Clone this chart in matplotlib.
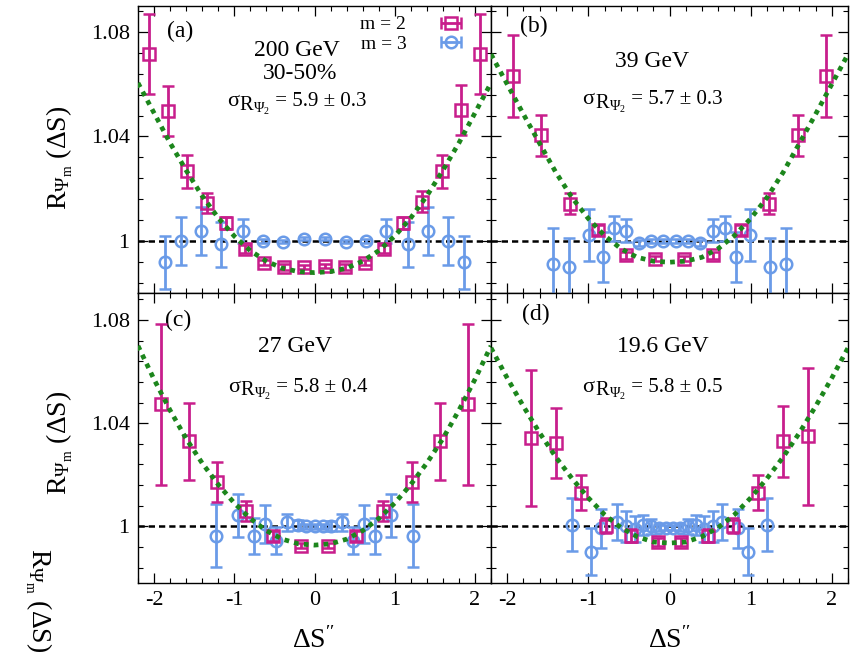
import numpy as np
import matplotlib
matplotlib.use('Agg')
import matplotlib.pyplot as plt
from matplotlib.ticker import MultipleLocator
from matplotlib.offsetbox import TextArea, HPacker, AnnotationBbox

plt.rcParams['font.family'] = ['Liberation Serif', 'DejaVu Serif']
plt.rcParams['mathtext.fontset'] = 'custom'
plt.rcParams['mathtext.rm'] = 'Liberation Serif'
plt.rcParams['mathtext.it'] = 'Liberation Serif:italic'
plt.rcParams['axes.unicode_minus'] = False

# colours
MAG = '#c81e8c'
BLUE = '#6a9be8'
GREEN = '#1c861c'

# ---- panel (a) 200 GeV ----
xa2 = [-2.06, -1.82, -1.59, -1.34, -1.10, -0.87, -0.625, -0.38, -0.13,
       0.13, 0.38, 0.625, 0.87, 1.10, 1.34, 1.59, 1.82, 2.06]
ya2 = [1.0716, 1.0499, 1.0266, 1.0145, 1.0070, 0.9970, 0.9916, 0.9900, 0.9900,
       0.9902, 0.9900, 0.9916, 0.9970, 1.0070, 1.0150, 1.0266, 1.0500, 1.0716]
ea2 = [0.0152, 0.0096, 0.0064, 0.0040, 0.0023, 0.0015, 0.0010, 0.0010, 0.0008,
       0.0008, 0.0010, 0.0010, 0.0015, 0.0023, 0.0040, 0.0064, 0.0096, 0.0152]
xa3 = [-1.86, -1.67, -1.42, -1.16, -0.895, -0.645, -0.39, -0.135,
       0.135, 0.39, 0.645, 0.895, 1.16, 1.42, 1.67, 1.86]
ya3 = [0.9918, 1.0000, 1.0038, 0.9986, 1.0038, 1.0000, 0.9996, 1.0008,
       1.0008, 0.9996, 1.0000, 1.0038, 0.9986, 1.0038, 1.0000, 0.9918]
ea3 = [0.0101, 0.0092, 0.0093, 0.0085, 0.0047, 0.0008, 0.0006, 0.0005,
       0.0005, 0.0006, 0.0008, 0.0047, 0.0085, 0.0093, 0.0092, 0.0101]

# ---- panel (b) 39 GeV ----
xb2 = [-1.93, -1.58, -1.23, -0.88, -0.53, -0.18, 0.18, 0.53, 0.88, 1.23, 1.58, 1.93]
yb2 = [1.0632, 1.0405, 1.0143, 1.0041, 0.9944, 0.9931, 0.9931, 0.9944, 1.0041, 1.0143, 1.0405, 1.0632]
eb2 = [0.0158, 0.0078, 0.0042, 0.0020, 0.0015, 0.0010, 0.0010, 0.0015, 0.0020, 0.0042, 0.0078, 0.0158]
xb3 = [-1.43, -1.24, -0.99, -0.82, -0.68, -0.53, -0.37, -0.23, -0.077,
       0.077, 0.23, 0.37, 0.53, 0.68, 0.82, 0.99, 1.24, 1.43]
yb3 = [0.9912, 0.9899, 1.0022, 0.9938, 1.0048, 1.0038, 0.9992, 1.0000, 1.0000,
       1.0000, 1.0000, 0.9992, 1.0038, 1.0048, 0.9938, 1.0022, 0.9899, 0.9912]
eb3 = [0.0136, 0.0110, 0.0100, 0.0094, 0.0047, 0.0044, 0.0010, 0.0008, 0.0007,
       0.0007, 0.0008, 0.0010, 0.0044, 0.0047, 0.0094, 0.0100, 0.0110, 0.0136]

# ---- panel (c) 27 GeV ----
xc2 = [-1.91, -1.56, -1.22, -0.86, -0.52, -0.17, 0.17, 0.52, 0.86, 1.22, 1.56, 1.91]
yc2 = [1.0473, 1.0329, 1.0173, 1.0061, 0.9963, 0.9924, 0.9924, 0.9963, 1.0061, 1.0173, 1.0329, 1.0473]
ec2 = [0.0312, 0.0148, 0.0077, 0.0039, 0.0020, 0.0010, 0.0010, 0.0020, 0.0039, 0.0077, 0.0148, 0.0312]
xc3 = [-1.23, -0.95, -0.76, -0.62, -0.48, -0.34, -0.21, -0.10, 0.0,
       0.10, 0.21, 0.34, 0.48, 0.62, 0.76, 0.95, 1.23]
yc3 = [0.9963, 1.0042, 0.9963, 1.0009, 0.9944, 1.0016, 1.0005, 1.0000, 1.0000,
       1.0000, 1.0000, 1.0016, 0.9944, 1.0009, 0.9963, 1.0042, 0.9963]
ec3 = [0.0122, 0.0085, 0.0070, 0.0072, 0.0052, 0.0033, 0.0020, 0.0010, 0.0010,
       0.0010, 0.0020, 0.0033, 0.0052, 0.0072, 0.0070, 0.0085, 0.0122]

# ---- panel (d) 19.6 GeV ----
xd2 = [-1.71, -1.40, -1.09, -0.78, -0.47, -0.14, 0.14, 0.47, 0.78, 1.09, 1.40, 1.71]
yd2 = [1.0342, 1.0323, 1.0131, 1.0003, 0.9963, 0.9940, 0.9940, 0.9963, 1.0003, 1.0131, 1.0329, 1.0349]
ed2 = [0.0265, 0.0137, 0.0069, 0.0030, 0.0025, 0.0015, 0.0015, 0.0025, 0.0030, 0.0069, 0.0137, 0.0265]
xd3 = [-1.20, -0.97, -0.85, -0.65, -0.53, -0.43, -0.33, -0.23, -0.13, -0.04,
       0.04, 0.13, 0.23, 0.33, 0.43, 0.53, 0.65, 0.85, 0.97, 1.20]
yd3 = [1.0006, 0.9902, 0.9992, 1.0015, 1.0000, 0.9990, 1.0005, 1.0000, 0.9995, 0.9995,
       0.9995, 0.9995, 1.0000, 1.0005, 0.9990, 1.0000, 1.0015, 0.9992, 0.9902, 1.0006]
ed3 = [0.0102, 0.0090, 0.0077, 0.0070, 0.0060, 0.0050, 0.0040, 0.0030, 0.0015, 0.0010,
       0.0010, 0.0015, 0.0030, 0.0040, 0.0050, 0.0060, 0.0070, 0.0077, 0.0090, 0.0102]

# green fit curves, read at |dS| = 0, 0.2, ... 2.2 (symmetric)
fit_x = [0.0, 0.2, 0.4, 0.6, 0.8, 1.0, 1.2, 1.4, 1.6, 1.8, 2.0, 2.2]
fit_a = [0.9878, 0.9882, 0.9895, 0.9922, 0.9962, 1.0018, 1.0088, 1.0172, 1.0270, 1.0375, 1.0490, 1.0605]
fit_b = [0.9918, 0.9922, 0.9937, 0.9970, 1.0020, 1.0085, 1.0165, 1.0262, 1.0373, 1.0485, 1.0600, 1.0715]
fit_c = [0.9927, 0.9932, 0.9950, 0.9983, 1.0030, 1.0090, 1.0162, 1.0245, 1.0340, 1.0450, 1.0570, 1.0700]
fit_d = [0.9935, 0.9939, 0.9960, 0.9995, 1.0045, 1.0110, 1.0185, 1.0268, 1.0362, 1.0465, 1.0575, 1.0692]

letters = ['(a)', '(b)', '(c)', '(d)']
energies = ['200 GeV', '39 GeV', '27 GeV', '19.6 GeV']
sigmas = ['= 5.9 \u00b1 0.3', '= 5.7 \u00b1 0.3', '= 5.8 \u00b1 0.4', '= 5.8 \u00b1 0.5']
xticks = [-2, -1, 0, 1, 2]
yticks = [1.0, 1.04, 1.08]
ytick_labels = ['1', '1.04', '1.08']

W, H = 856, 663
fig = plt.figure(figsize=(W / 100, H / 100), dpi=100)

# axes boxes in pixels (left, top, right, bottom)
boxes = [(138, 6, 491, 293), (491, 6, 848, 293), (138, 293, 491, 583), (491, 293, 848, 583)]
panels = [(xa2, ya2, ea2, xa3, ya3, ea3, fit_a),
          (xb2, yb2, eb2, xb3, yb3, eb3, fit_b),
          (xc2, yc2, ec2, xc3, yc3, ec3, fit_c),
          (xd2, yd2, ed2, xd3, yd3, ed3, fit_d)]
# text positions in axes fractions
pos_letter = [(0.12, 0.91), (0.12, 0.93), (0.115, 0.905), (0.125, 0.925)]
pos_energy = [(0.45, 0.845), (0.45, 0.805), (0.445, 0.815), (0.48, 0.815)]
pos_sigma = [(0.449, 0.667), (0.452, 0.672), (0.453, 0.674), (0.452, 0.674)]

eb_kw = dict(mfc='none', ms=8.3, mew=1.8, elinewidth=2.0, capsize=4.3, capthick=2.0)

for i, (x2, y2, e2, x3, y3, e3, fit) in enumerate(panels):
    l, t, r, b = boxes[i]
    ax = fig.add_axes([l / W, 1 - b / H, (r - l) / W, (b - t) / H])

    ax.axhline(1.0, color='black', lw=1.8, ls=(0, (2.5, 1.6)), zorder=1)

    ax.errorbar(x3, y3, yerr=e3, fmt='o', color=BLUE, mec=BLUE, zorder=3, **eb_kw)
    ax.errorbar(x2, y2, yerr=e2, fmt='s', color=MAG, mec=MAG, zorder=4, **eb_kw)

    fx = [-v for v in fit_x[::-1]] + fit_x[1:]
    fy = fit[::-1] + fit[1:]
    ax.plot(fx, fy, color=GREEN, lw=3.4, ls=(0, (1, 1.1)), zorder=5)

    ax.set_xlim(-2.2, 2.2)
    if i < 2:
        ax.set_ylim(0.98, 1.09)
    else:
        ax.set_ylim(0.978, 1.0905)
    ax.set_xticks(xticks)
    ax.set_yticks(yticks)
    ax.xaxis.set_minor_locator(MultipleLocator(0.2))
    ax.yaxis.set_minor_locator(MultipleLocator(0.008))
    ax.tick_params(which='both', direction='in', top=True, right=True, labelsize=16)
    ax.tick_params(which='major', length=7, width=0.9, pad=6)
    ax.tick_params(which='minor', length=3.5, width=0.8)
    for sp in ax.spines.values():
        sp.set_linewidth(1.0)

    if i in (0, 2):
        ax.set_yticklabels(ytick_labels)
    else:
        ax.tick_params(labelleft=False)
    if i in (2, 3):
        ax.set_xticklabels([str(v) for v in xticks])
    else:
        ax.tick_params(labelbottom=False)

    ax.text(*pos_letter[i], letters[i], transform=ax.transAxes, fontsize=17,
            ha='center', va='center')
    ax.text(*pos_energy[i], energies[i], transform=ax.transAxes, fontsize=17,
            ha='center', va='center')
    if i == 0:
        ax.text(0.46, 0.765, '30-50%', transform=ax.transAxes, fontsize=17,
                ha='center', va='center')

    # sigma label: larger subscripts than plain mathtext gives
    parts = [TextArea('\u03c3', textprops=dict(fontsize=16)),
             TextArea(r'$_{\mathrm{R}_{\Psi_2}}$', textprops=dict(fontsize=21)),
             TextArea(' ' + sigmas[i], textprops=dict(fontsize=15))]
    box = HPacker(children=parts, align='baseline', pad=0, sep=0)
    ab = AnnotationBbox(box, pos_sigma[i], xycoords='axes fraction', frameon=False,
                        box_alignment=(0.5, 0.5), pad=0)
    ax.add_artist(ab)

    if i == 0:
        # legend drawn with horizontal bars like the original
        d2 = ax.errorbar([np.nan], [np.nan], xerr=[1], fmt='s', color=MAG, mec=MAG, **eb_kw)
        d3 = ax.errorbar([np.nan], [np.nan], xerr=[1], fmt='o', color=BLUE, mec=BLUE, **eb_kw)
        ax.legend([d2, d3], ['m = 2', 'm = 3'], loc='upper right', markerfirst=False,
                  frameon=False, fontsize=14, handlelength=2.2, handletextpad=1.2,
                  borderaxespad=0.1, labelspacing=0.1, bbox_to_anchor=(0.975, 1.0))

ylab = r'$\mathrm{R_{\Psi_m}}$ (ΔS)'
fig.text(60 / W, 1 - 158 / H, ylab, rotation=90, ha='center', va='center', fontsize=20)
fig.text(60 / W, 1 - 443 / H, ylab, rotation=90, ha='center', va='center', fontsize=20)
fig.text(38 / W, 1 - 548 / H, ylab, rotation=270, ha='center', va='top', fontsize=20)

xlab = r'$\mathrm{\Delta S^{\prime\prime}}$'
fig.text(314 / W, 1 - 640 / H, xlab, ha='center', va='center', fontsize=20)
fig.text(670 / W, 1 - 640 / H, xlab, ha='center', va='center', fontsize=20)

fig.savefig('out.png', dpi=100)
